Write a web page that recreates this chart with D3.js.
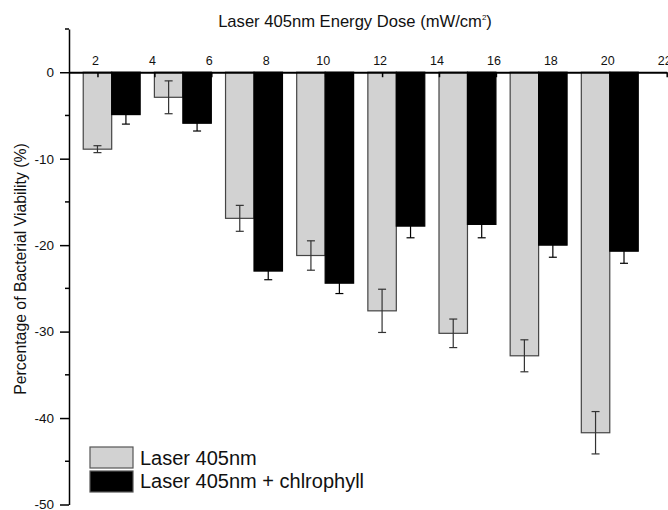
<!DOCTYPE html>
<html>
<head>
<meta charset="utf-8">
<script src="https://cdn.jsdelivr.net/npm/d3@7"></script>
<style>
  body { margin: 0; background: #fff; }
  svg text { font-family: "Liberation Sans", Arial, sans-serif; fill: #111; }
</style>
</head>
<body>
<svg id="chart" width="668" height="510"></svg>
<script>
// energy dose positions of each bar pair
const doses = [2.5, 5, 7.5, 10, 12.5, 15, 17.5, 20];
// Laser 405nm alone
const laserValues = [-8.9, -2.9, -16.9, -21.2, -27.6, -30.2, -32.8, -41.7];
const laserErrors = [0.4, 1.9, 1.5, 1.7, 2.5, 1.65, 1.85, 2.45];
// Laser 405nm + chlrophyll
const chloroValues = [-4.9, -5.9, -23.0, -24.4, -17.8, -17.6, -20.0, -20.7];
const chloroErrors = [1.1, 0.9, 1.0, 1.2, 1.35, 1.55, 1.4, 1.4];

const xTicks = [2, 4, 6, 8, 10, 12, 14, 16, 18, 20, 22];
const yTicks = [0, -10, -20, -30, -40, -50];
const yMinorTicks = [5, -5, -15, -25, -35, -45];

const seriesNames = ["Laser 405nm", "Laser 405nm + chlrophyll"];

const svg = d3.select("#chart");

const x = d3.scaleLinear().domain([1, 22]).range([69, 666.7]);
const y = d3.scaleLinear().domain([-50, 5]).range([504.5, 29]);

const grayFill = "#d2d2d2";
const barWidth = 1; // in dose units

function barGroup(values, errors, offset, fill, stroke, errColor) {
    const g = svg.append("g");
    g.selectAll("rect")
        .data(values)
        .join("rect")
        .attr("x", (d, i) => x(doses[i] + offset))
        .attr("y", y(0))
        .attr("width", x(doses[0] + barWidth) - x(doses[0]))
        .attr("height", (d) => y(d) - y(0))
        .attr("fill", fill)
        .attr("stroke", stroke)
        .attr("stroke-width", 1.2);

    // error bars
    const eb = g.selectAll("g.err")
        .data(values)
        .join("g")
        .attr("class", "err")
        .attr("stroke", errColor)
        .attr("stroke-width", 1.2);
    eb.each(function (d, i) {
        const cx = x(doses[i] + offset + barWidth / 2);
        const e = errors[i];
        const s = d3.select(this);
        s.append("line")
            .attr("x1", cx).attr("x2", cx)
            .attr("y1", y(d + e)).attr("y2", y(d - e));
        for (const v of [d + e, d - e]) {
            s.append("line")
                .attr("x1", cx - 4).attr("x2", cx + 4)
                .attr("y1", y(v)).attr("y2", y(v));
        }
    });
}

barGroup(laserValues, laserErrors, -1, grayFill, "#444", "#333");
barGroup(chloroValues, chloroErrors, 0, "#000", "#000", "#000");

// y axis on the left (plain hyphen minus like the original)
const yAxis = svg.append("g")
    .attr("transform", `translate(${x(1)},0)`)
    .call(d3.axisLeft(y).tickValues(yTicks).tickSize(9).tickSizeOuter(0)
        .tickPadding(6).tickFormat((d) => String(d)));
yAxis.select(".domain").attr("stroke", "#000").attr("stroke-width", 1.5);
yAxis.selectAll(".tick line").attr("stroke-width", 1.5);
yAxis.selectAll("text").style("font-size", "13.5px").attr("fill", "#111");

svg.append("g")
    .selectAll("line")
    .data(yMinorTicks)
    .join("line")
    .attr("x1", x(1) - 4).attr("x2", x(1))
    .attr("y1", (d) => y(d)).attr("y2", (d) => y(d))
    .attr("stroke", "#000").attr("stroke-width", 1.5);

// x axis along zero, labels above
const xAxis = svg.append("g")
    .attr("transform", `translate(0,${y(0)})`)
    .call(d3.axisTop(x).tickValues(xTicks).tickSize(-5).tickSizeOuter(0)
        .tickPadding(7.5));
xAxis.select(".domain").attr("stroke", "#000").attr("stroke-width", 1.8);
xAxis.selectAll(".tick line").attr("stroke-width", 1.5);
xAxis.selectAll("text").style("font-size", "12.5px").attr("dx", -2.5).attr("fill", "#111");

// title on top
const title = svg.append("text")
    .attr("x", 355)
    .attr("y", 26.5)
    .attr("text-anchor", "middle")
    .style("font-size", "16.6px");
title.append("tspan").text("Laser 405nm Energy Dose (mW/cm");
title.append("tspan").text("2").attr("dy", -7).style("font-size", "8px");
title.append("tspan").text(")").attr("dy", 7);

// y label
svg.append("text")
    .attr("transform", `translate(25.5,269) rotate(-90)`)
    .attr("text-anchor", "middle")
    .style("font-size", "15.8px")
    .text("Percentage of Bacterial Viability (%)");

// legend
const legend = svg.append("g").attr("transform", "translate(90,447)");
const legendFills = [grayFill, "#000"];
legend.selectAll("rect")
    .data(seriesNames)
    .join("rect")
    .attr("x", 0)
    .attr("y", (d, i) => i * 24)
    .attr("width", 43)
    .attr("height", 21)
    .attr("fill", (d, i) => legendFills[i])
    .attr("stroke", "#555")
    .attr("stroke-width", 1.2);
legend.selectAll("text")
    .data(seriesNames)
    .join("text")
    .attr("x", 50)
    .attr("y", (d, i) => 18 + i * 23)
    .style("font-size", "20px")
    .text((d) => d);
</script>
</body>
</html>
